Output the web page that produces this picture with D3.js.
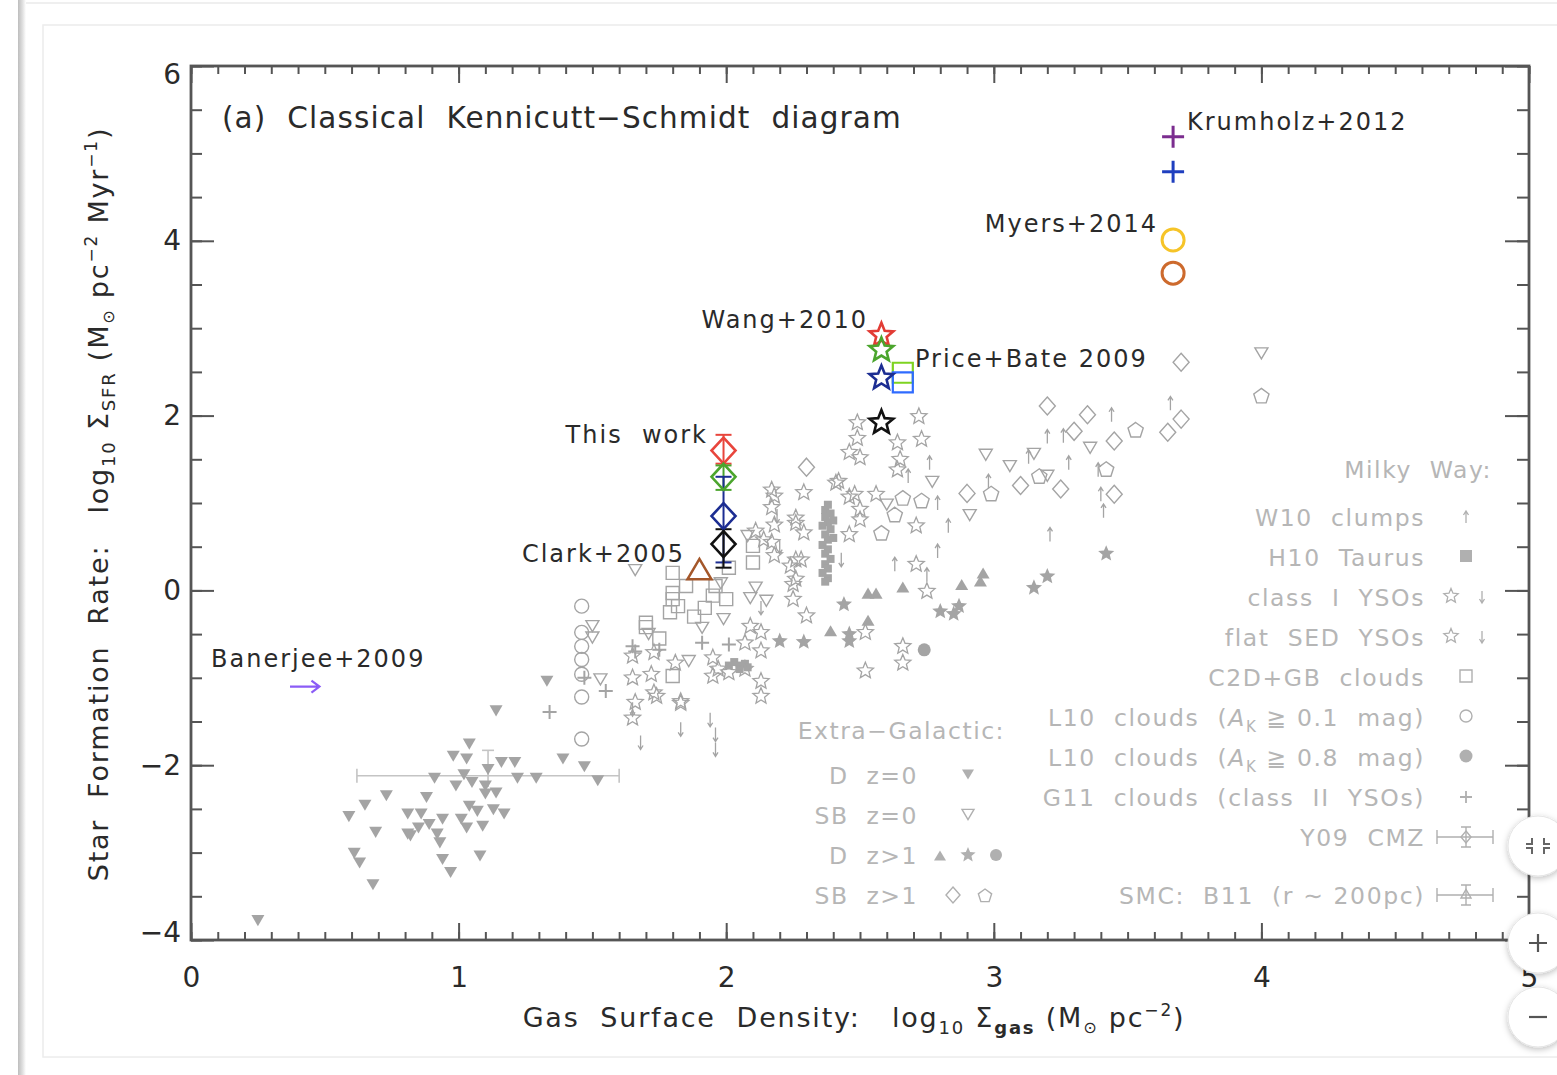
<!DOCTYPE html>
<html><head><meta charset="utf-8">
<script src="https://cdn.jsdelivr.net/npm/d3@7"></script>
<style>body{margin:0;background:#fff}svg{display:block}</style>
</head><body>
<svg id="chart" width="1557" height="1075"></svg>
<script>
// ---- axis ticks ----
const xTicks = [0, 1, 2, 3, 4, 5];
const yTicks = [-4, -2, 0, 2, 4, 6];

// ---- highlighted simulations / observations ----
const thisWorkX = 1.99;
const thisWorkY = [1.60, 1.30, 0.85, 0.53];
const thisWorkHi = [1.78, 1.43, 1.30, 0.70];
const thisWorkLo = [1.45, 1.15, 0.32, 0.26];
const wangX = 2.58;
const wangY = [2.92, 2.75, 2.43, 1.92];
const priceX = 2.66;
const priceY = [2.49, 2.38];
const krumholzX = 3.67;
const krumholzY = [5.19, 4.79];
const myersX = 3.67;
const myersY = [4.01, 3.63];
const clark = [1.90, 0.22];
const banerjee = [0.37, 0.48, -1.10];

// ---- Extra-Galactic ----
const dz0 = [[1.33,-1.02],[1.14,-1.36],[1.04,-1.74],[0.98,-1.88],[1.03,-1.91],[1.16,-1.95],[1.21,-1.95],[1.11,-2.03],[1.02,-2.09],[0.91,-2.13],[0.99,-2.22],[1.05,-2.18],[1.10,-2.22],[1.22,-2.13],[1.29,-2.13],[1.39,-1.91],[1.47,-2.00],[1.52,-2.16],[1.14,-2.30],[0.88,-2.35],[0.73,-2.33],[0.65,-2.44],[0.59,-2.57],[0.81,-2.54],[0.86,-2.54],[1.04,-2.45],[1.07,-2.51],[1.13,-2.49],[1.17,-2.54],[1.01,-2.60],[1.03,-2.70],[1.09,-2.68],[0.94,-2.60],[0.89,-2.66],[0.85,-2.70],[0.81,-2.77],[0.82,-2.79],[0.92,-2.77],[0.93,-2.87],[0.69,-2.75],[0.61,-2.99],[0.63,-3.10],[0.68,-3.35],[0.94,-3.06],[0.97,-3.21],[1.08,-3.02],[1.10,-2.31],[0.25,-3.76]];
const sbz0 = [[2.97,1.57],[3.06,1.44],[2.77,1.26],[2.91,0.88],[3.36,1.65],[3.20,1.33],[3.15,1.58],[2.60,1.00],[4.00,2.73],[1.50,-0.39],[1.50,-0.52],[1.53,-1.00],[1.66,0.25],[1.98,0.10],[2.11,0.05],[2.15,-0.10],[2.09,-0.07],[1.99,-0.31],[1.91,-0.41],[1.71,-0.48],[1.86,-0.79],[2.08,0.64]];
const sbz1Diamond = [[2.30,1.41],[3.20,2.11],[3.35,2.01],[3.30,1.82],[3.45,1.71],[2.90,1.11],[3.10,1.20],[3.25,1.16],[3.45,1.10],[3.65,1.81],[3.70,1.96],[3.70,2.61]];
const sbz1Pentagon = [[2.66,1.05],[2.73,1.02],[2.63,0.86],[2.58,0.65],[2.99,1.10],[3.17,1.30],[3.42,1.38],[3.53,1.83],[4.00,2.22]];
const dz1Star = [[2.44,-0.16],[2.80,-0.24],[2.85,-0.27],[2.87,-0.18],[3.15,0.03],[3.20,0.16],[3.42,0.42],[2.46,-0.50],[2.46,-0.58],[2.29,-0.59],[2.20,-0.58]];
const dz1Tri = [[2.53,-0.05],[2.56,-0.05],[2.66,0.02],[2.88,0.05],[2.95,0.09],[2.96,0.18],[2.39,-0.48],[2.53,-0.36]];
const dz1Dot = [[2.74,-0.68]];

// ---- Milky Way ----
const w10 = [[2.76,1.46],[2.68,1.31],[2.79,1.00],[2.83,0.74],[2.79,0.45],[2.63,0.30],[2.75,0.18],[2.98,1.25],[3.13,1.53],[3.20,1.76],[3.26,1.77],[3.28,1.46],[3.44,2.01],[3.39,1.38],[3.40,1.10],[3.41,0.91],[3.21,0.64],[3.66,2.14]];
const ysoStar = [[2.49,1.92],[2.72,1.99],[2.73,1.73],[2.49,1.74],[2.46,1.58],[2.50,1.52],[2.64,1.69],[2.65,1.50],[2.64,1.38],[2.42,1.25],[2.48,1.10],[2.56,1.10],[2.50,0.81],[2.46,0.64],[2.71,0.74],[2.71,0.30],[2.75,-0.01],[2.52,-0.48],[2.66,-0.64],[2.66,-0.83],[2.52,-0.92],[2.41,1.23],[2.29,1.12],[2.18,1.08],[2.26,0.83],[2.29,0.66],[2.11,0.68],[2.14,0.58],[2.26,0.35],[2.26,0.13],[2.25,-0.10],[2.30,-0.29],[2.09,-0.41],[2.07,-0.60],[2.13,-1.04],[2.13,-1.21],[1.95,-0.98],[1.83,-1.29],[1.65,-1.46],[1.65,-1.00],[1.74,-1.21],[2.46,1.07],[2.50,0.93],[2.26,0.77],[2.28,0.35],[2.24,0.28],[2.25,0.07],[2.13,-0.48],[2.13,-0.69],[1.65,-0.75],[1.72,-0.96],[1.83,-1.27],[1.66,-1.28],[1.73,-1.17],[1.81,-0.83],[1.73,-0.71],[1.95,-0.77],[1.97,-0.90],[2.01,-0.94],[2.07,-0.90],[2.17,1.15],[2.17,0.95],[2.18,0.75],[2.17,0.55],[2.18,0.40]];
const ysoDown = [[1.83,-1.59],[1.94,-1.48],[1.96,-1.65],[1.96,-1.82],[1.68,-1.74],[1.65,-1.36],[2.19,0.85],[2.20,0.50],[2.43,0.35],[2.13,-0.20]];
const c2d = [[1.80,0.20],[2.01,0.26],[2.10,0.51],[2.10,0.32],[2.00,-0.10],[1.80,-0.03],[1.70,-0.37],[1.80,-0.98],[1.80,-0.10],[1.82,-0.18],[1.79,-0.25],[1.95,-0.06],[1.96,0.05],[1.85,0.05],[1.70,-0.42],[1.75,-0.55],[1.92,-0.20],[1.88,-0.30]];
const h10 = [[2.38,0.98],[2.37,0.92],[2.39,0.88],[2.37,0.84],[2.38,0.78],[2.36,0.74],[2.39,0.70],[2.37,0.64],[2.38,0.58],[2.36,0.52],[2.38,0.47],[2.37,0.42],[2.39,0.36],[2.37,0.30],[2.38,0.25],[2.36,0.20],[2.38,0.14],[2.37,0.10],[2.40,0.60],[2.40,0.80],[2.03,-0.82],[2.05,-0.86],[2.07,-0.84],[2.05,-0.90],[2.08,-0.88],[2.01,-0.86]];
const l10Open = [[1.46,-0.18],[1.46,-0.48],[1.46,-0.64],[1.46,-0.79],[1.46,-0.96],[1.46,-1.22],[1.46,-1.70]];
const g11 = [[1.34,-1.39],[1.55,-1.15],[1.47,-1.00],[1.65,-0.64],[1.75,-0.68],[2.01,-0.62],[1.91,-0.60],[1.66,-0.70]];
const smc = {x: 1.11, y: -2.12, xlo: 0.62, xhi: 1.60, ylo: -2.25, yhi: -1.83};

// ---- legend labels ----
const extraGalLabels = ["D  z=0", "SB  z=0", "D  z>1", "SB  z>1"];
const milkyWayLabels = ["W10  clumps", "H10  Taurus", "class  I  YSOs", "flat  SED  YSOs", "C2D+GB  clouds",
  "L10  clouds  (A_K ≧ 0.1  mag)", "L10  clouds  (A_K ≧ 0.8  mag)", "G11  clouds  (class  II  YSOs)", "Y09  CMZ", "SMC:  B11  (r ∼ 200pc)"];

// =====================================================================
const svg = d3.select("#chart");
const FONT = "DejaVu Sans, sans-serif";
const GRAY = "#a4a4a4";
const LEG = "#b6b6b6";
const INK = "#2a2a2a";
const AX = "#555";

const x = d3.scaleLinear().domain([0, 5]).range([191, 1529]);
const y = d3.scaleLinear().domain([-4, 6]).range([940, 66]);

// ---- page frame and viewer chrome ----
const defs = svg.append("defs");
const sh = defs.append("filter").attr("id", "shadow").attr("x", "-50%").attr("y", "-50%").attr("width", "200%").attr("height", "200%");
sh.append("feDropShadow").attr("dx", 0).attr("dy", 2).attr("stdDeviation", 3).attr("flood-color", "#000").attr("flood-opacity", 0.25);
const bar = defs.append("linearGradient").attr("id", "bar");
bar.append("stop").attr("offset", "0%").attr("stop-color", "#bdbdbd");
bar.append("stop").attr("offset", "60%").attr("stop-color", "#e2e2e2");
bar.append("stop").attr("offset", "100%").attr("stop-color", "#fff");

svg.append("rect").attr("width", 1557).attr("height", 1075).attr("fill", "#fff");
svg.append("line").attr("x1", 20).attr("x2", 1557).attr("y1", 3).attr("y2", 3).attr("stroke", "#efefef").attr("stroke-width", 2);
svg.append("rect").attr("x", 18).attr("y", 0).attr("width", 8).attr("height", 1075).attr("fill", "url(#bar)");
svg.append("rect").attr("x", 43).attr("y", 25).attr("width", 1530).attr("height", 1032)
  .attr("fill", "none").attr("stroke", "#ececec").attr("stroke-width", 1.5);

// ---- axes (ticks drawn inward on all four sides) ----
const fr = svg.append("g");
function axisStyle(g) {
  g.select(".domain").remove();
  g.selectAll("line").attr("stroke", AX).attr("stroke-width", 2);
  g.selectAll("text").attr("fill", INK).attr("font-family", FONT).attr("font-size", 28);
}
const xMinor = d3.range(0, 50.5, 1).map(v => v / 10);
const yMinor = d3.range(-8, 12.5, 1).map(v => v / 2);
fr.append("g").attr("transform", "translate(0,940)")
  .call(d3.axisBottom(x).tickValues(xMinor).tickSize(-8).tickFormat("")).call(axisStyle);
fr.append("g").attr("transform", "translate(0,940)")
  .call(d3.axisBottom(x).tickValues(xTicks).tickSize(-17).tickPadding(27).tickFormat(d3.format("d"))).call(axisStyle);
fr.append("g").attr("transform", "translate(0,66)")
  .call(d3.axisTop(x).tickValues(xMinor).tickSize(-8).tickFormat("")).call(axisStyle);
fr.append("g").attr("transform", "translate(0,66)")
  .call(d3.axisTop(x).tickValues(xTicks).tickSize(-17).tickFormat("")).call(axisStyle);
fr.append("g").attr("transform", "translate(191,0)")
  .call(d3.axisLeft(y).tickValues(yMinor).tickSize(-11).tickFormat("")).call(axisStyle);
const yAx = fr.append("g").attr("transform", "translate(191,0)")
  .call(d3.axisLeft(y).tickValues(yTicks).tickSize(-23).tickPadding(10).tickFormat(d => d3.format("d")(d).replace("-", "−"))).call(axisStyle);
// keep the end labels inside the frame height
yAx.selectAll(".tick text").attr("dy", d => d === 6 ? "0.62em" : d === -4 ? "0.05em" : "0.32em");
fr.append("g").attr("transform", "translate(1529,0)")
  .call(d3.axisRight(y).tickValues(yMinor).tickSize(-12).tickFormat("")).call(axisStyle);
fr.append("g").attr("transform", "translate(1529,0)")
  .call(d3.axisRight(y).tickValues(yTicks).tickSize(-24).tickFormat("")).call(axisStyle);
fr.append("rect").attr("x", x(0)).attr("y", y(6)).attr("width", x(5) - x(0)).attr("height", y(-4) - y(6))
  .attr("fill", "none").attr("stroke", AX).attr("stroke-width", 2.8);

// ---- marker shapes ----
function starPath(R, r) {
  const p = d3.path();
  for (let i = 0; i < 10; i++) {
    const a = -Math.PI / 2 + i * Math.PI / 5, rad = i % 2 ? r : R;
    i ? p.lineTo(rad * Math.cos(a), rad * Math.sin(a)) : p.moveTo(rad * Math.cos(a), rad * Math.sin(a));
  }
  p.closePath(); return p.toString();
}
function polyPath(n, R, rot) {
  const p = d3.path();
  for (let i = 0; i < n; i++) {
    const a = rot + i * 2 * Math.PI / n;
    i ? p.lineTo(R * Math.cos(a), R * Math.sin(a)) : p.moveTo(R * Math.cos(a), R * Math.sin(a));
  }
  p.closePath(); return p.toString();
}
const triDown = s => `M${-s},${-s * 0.6}L${s},${-s * 0.6}L0,${s * 1.1}Z`;
const triUp = s => `M${-s},${s * 0.6}L${s},${s * 0.6}L0,${-s * 1.1}Z`;
const diamond = (w, h) => `M0,${-h}L${w},0L0,${h}L${-w},0Z`;
const square = s => `M${-s},${-s}H${s}V${s}H${-s}Z`;
const plus = s => `M${-s},0H${s}M0,${-s}V${s}`;
const circle = r => `M${r},0A${r},${r} 0 1,1 ${-r},0A${r},${r} 0 1,1 ${r},0Z`;
const arrowUp = s => `M0,${s}V${-s}M${-2.5},${-s + 4}L0,${-s}L2.5,${-s + 4}`;
const arrowDown = s => `M0,${-s}V${s}M${-2.5},${s - 4}L0,${s}L2.5,${s - 4}`;

function marks(data, d, fill, stroke, sw) {
  svg.append("g").selectAll("path").data(data).join("path")
    .attr("d", d)
    .attr("transform", p => `translate(${x(p[0])},${y(p[1])})`)
    .attr("fill", fill).attr("stroke", stroke).attr("stroke-width", sw);
}

// ---- grey literature compilation ----
// SMC B11 with error bars
(function () {
  const g = svg.append("g").attr("stroke", "#c4c4c4").attr("stroke-width", 1.6).attr("fill", "none");
  g.append("line").attr("x1", x(smc.xlo)).attr("x2", x(smc.xhi)).attr("y1", y(smc.y)).attr("y2", y(smc.y));
  [smc.xlo, smc.xhi].forEach(v => g.append("line").attr("x1", x(v)).attr("x2", x(v)).attr("y1", y(smc.y) - 7).attr("y2", y(smc.y) + 7));
  g.append("line").attr("x1", x(smc.x)).attr("x2", x(smc.x)).attr("y1", y(smc.yhi)).attr("y2", y(smc.ylo));
  g.append("line").attr("x1", x(smc.x) - 6).attr("x2", x(smc.x) + 6).attr("y1", y(smc.yhi)).attr("y2", y(smc.yhi));
})();
marks(h10, square(4), GRAY, "none", 0);
marks(l10Open, circle(7), "none", GRAY, 1.4);
marks(c2d, square(6.5), "none", GRAY, 1.4);
marks(ysoStar, starPath(8.5, 3.8), "none", GRAY, 1.3);
marks(ysoDown, arrowDown(7), "none", GRAY, 1.3);
marks(g11, plus(7), "none", GRAY, 2);
marks(w10, arrowUp(7), "none", GRAY, 1.3);
marks(dz0, triDown(6.5), GRAY, "none", 0);
marks(sbz0, triDown(6.5), "none", GRAY, 1.4);
marks(sbz1Diamond, diamond(8, 9), "none", GRAY, 1.4);
marks(sbz1Pentagon, polyPath(5, 8, -Math.PI / 2), "none", GRAY, 1.4);
marks(dz1Star, starPath(8.5, 3.8), GRAY, "none", 0);
marks(dz1Tri, triUp(6.5), GRAY, "none", 0);
marks(dz1Dot, circle(6.5), GRAY, "none", 0);

// ---- highlighted points ----
const twColors = ["#e8453c", "#4ba52d", "#1c2d92", "#111"];
const wangColors = ["#e23c35", "#4ba52d", "#1c2d92", "#111"];
const hi = svg.append("g").attr("fill", "none");
// Clark+2005
hi.append("path").attr("d", triUp(12)).attr("transform", `translate(${x(clark[0])},${y(clark[1]) + 1})`)
  .attr("stroke", "#a4572a").attr("stroke-width", 2.5);
// This work: error bars then diamonds
thisWorkY.forEach((v, i) => {
  const c = twColors[i], cx = x(thisWorkX);
  hi.append("line").attr("x1", cx).attr("x2", cx).attr("y1", y(thisWorkHi[i])).attr("y2", y(thisWorkLo[i])).attr("stroke", c).attr("stroke-width", 2);
  [thisWorkHi[i], thisWorkLo[i]].forEach(e => hi.append("line").attr("x1", cx - 8).attr("x2", cx + 8)
    .attr("y1", y(e)).attr("y2", y(e)).attr("stroke", c).attr("stroke-width", 2));
});
thisWorkY.forEach((v, i) => {
  hi.append("path").attr("d", diamond(12, 13)).attr("transform", `translate(${x(thisWorkX)},${y(v)})`)
    .attr("stroke", twColors[i]).attr("stroke-width", 2.6);
});
// Price+Bate 2009
["#7ed321", "#2f6bff"].forEach((c, i) => {
  hi.append("path").attr("d", square(10)).attr("transform", `translate(${x(priceX)},${y(priceY[i])})`)
    .attr("stroke", c).attr("stroke-width", 2.2);
});
// Wang+2010
wangY.forEach((v, i) => {
  hi.append("path").attr("d", starPath(12.5, 5.5)).attr("transform", `translate(${x(wangX)},${y(v)})`)
    .attr("stroke", wangColors[i]).attr("stroke-width", 2.6).attr("stroke-linejoin", "miter");
});
// Krumholz+2012
["#7b2d8f", "#1f3fbf"].forEach((c, i) => {
  hi.append("path").attr("d", plus(11)).attr("transform", `translate(${x(krumholzX)},${y(krumholzY[i])})`)
    .attr("stroke", c).attr("stroke-width", 3);
});
// Myers+2014
["#f6c428", "#cd6a2d"].forEach((c, i) => {
  hi.append("path").attr("d", circle(11)).attr("transform", `translate(${x(myersX)},${y(myersY[i])})`)
    .attr("stroke", c).attr("stroke-width", 3);
});
// Banerjee+2009 (lower limit in gas surface density)
(function () {
  const x1 = x(banerjee[0]), x2 = x(banerjee[1]), yy = y(banerjee[2]);
  hi.append("path").attr("d", `M${x1},${yy}H${x2}M${x2 - 8},${yy - 6}L${x2},${yy}L${x2 - 8},${yy + 6}`)
    .attr("stroke", "#8b5cf6").attr("stroke-width", 2.2);
})();

// ---- text ----
function label(t, px, py, anchor, opts = {}) {
  return svg.append("text").attr("x", px).attr("y", py).attr("text-anchor", anchor || "start")
    .attr("font-family", FONT).attr("font-size", opts.size || 24).attr("fill", opts.fill || INK)
    .attr("letter-spacing", opts.ls != null ? opts.ls : 2).style("white-space", "pre").text(t);
}
label("(a)  Classical  Kennicutt−Schmidt  diagram", 222, 128, "start", {size: 29.5, ls: 1.1});
label("Krumholz+2012", 1187, 130, "start");
label("Myers+2014", 1158, 232, "end");
label("Wang+2010", 868, 328, "end");
label("Price+Bate 2009", 915, 367, "start");
label("This  work", 708, 443, "end");
label("Clark+2005", 685, 562, "end");
label("Banerjee+2009", 211, 667, "start");

// axis titles
(function () {
  const t = svg.append("text").attr("x", 854).attr("y", 1027).attr("text-anchor", "middle")
    .attr("font-family", FONT).attr("font-size", 27).attr("fill", INK).attr("letter-spacing", 1.8).style("white-space", "pre");
  t.append("tspan").text("Gas  Surface  Density:   log");
  t.append("tspan").attr("font-size", 18).attr("dy", 7).text("10");
  t.append("tspan").attr("dy", -7).text(" Σ");
  t.append("tspan").attr("font-size", 18).attr("font-weight", "bold").attr("dy", 7).text("gas");
  t.append("tspan").attr("dy", -7).text(" (M");
  t.append("tspan").attr("font-size", 16).attr("dy", 6).text("⊙");
  t.append("tspan").attr("dy", -6).text(" pc");
  t.append("tspan").attr("font-size", 17).attr("dy", -11).text("−2");
  t.append("tspan").attr("dy", 11).text(")");
})();
(function () {
  const t = svg.append("text").attr("transform", "translate(108,504) rotate(-90)").attr("text-anchor", "middle")
    .attr("font-family", FONT).attr("font-size", 27).attr("fill", INK).attr("letter-spacing", 1.8).style("white-space", "pre");
  t.append("tspan").text("Star  Formation  Rate:   log");
  t.append("tspan").attr("font-size", 18).attr("dy", 7).text("10");
  t.append("tspan").attr("dy", -7).text(" Σ");
  t.append("tspan").attr("font-size", 18).attr("dy", 7).text("SFR");
  t.append("tspan").attr("dy", -7).text(" (M");
  t.append("tspan").attr("font-size", 16).attr("dy", 6).text("⊙");
  t.append("tspan").attr("dy", -6).text(" pc");
  t.append("tspan").attr("font-size", 17).attr("dy", -11).text("−2");
  t.append("tspan").attr("dy", 11).text(" Myr");
  t.append("tspan").attr("font-size", 17).attr("dy", -11).text("−1");
  t.append("tspan").attr("dy", 11).text(")");
})();

// ---- legends ----
const legOpts = {size: 23.5, fill: LEG, ls: 1.5};
label("Extra−Galactic:", 1005, 739, "end", legOpts);
const egY = [775, 815, 855, 895];
extraGalLabels.forEach((t, i) => label(t, 918, egY[i] + 9, "end", legOpts));
const lg = svg.append("g");
function legMark(d, px, py, fill, stroke, sw) {
  lg.append("path").attr("d", d).attr("transform", `translate(${px},${py})`)
    .attr("fill", fill).attr("stroke", stroke).attr("stroke-width", sw);
}
const LG = "#b0b0b0";
legMark(triDown(6), 968, 773, LG, "none", 0);
legMark(triDown(6), 968, 813, "none", LG, 1.4);
legMark(triUp(6), 940, 857, LG, "none", 0);
legMark(starPath(8, 3.6), 968, 855, LG, "none", 0);
legMark(circle(6), 996, 855, LG, "none", 0);
legMark(diamond(7, 8), 953, 895, "none", LG, 1.4);
legMark(polyPath(5, 7, -Math.PI / 2), 985, 896, "none", LG, 1.4);

label("Milky  Way:", 1492, 478, "end", legOpts);
const mwY = [517, 557, 597, 637, 677, 717, 757, 797, 837, 895];
milkyWayLabels.forEach((t, i) => {
  const el = svg.append("text").attr("x", 1425).attr("y", mwY[i] + 9).attr("text-anchor", "end")
    .attr("font-family", FONT).attr("font-size", 23.5).attr("fill", LEG).attr("letter-spacing", 1.6).style("white-space", "pre");
  const k = t.indexOf("A_K");
  if (k < 0) { el.text(t); return; }
  el.append("tspan").text(t.slice(0, k));
  el.append("tspan").attr("font-style", "italic").text("A");
  el.append("tspan").attr("font-size", 15).attr("dy", 6).text("K");
  el.append("tspan").attr("dy", -6).text(t.slice(k + 3));
});
legMark(arrowUp(6), 1466, 517, "none", LG, 1.3);
legMark(square(6), 1466, 556, LG, "none", 0);
legMark(starPath(7.5, 3.4), 1451, 596, "none", LG, 1.3);
legMark(arrowDown(6), 1482, 597, "none", LG, 1.3);
legMark(starPath(7.5, 3.4), 1451, 636, "none", LG, 1.3);
legMark(arrowDown(6), 1482, 637, "none", LG, 1.3);
legMark(square(6), 1466, 676, "none", LG, 1.4);
legMark(circle(6), 1466, 716, "none", LG, 1.4);
legMark(circle(6.5), 1466, 756, LG, "none", 0);
legMark(plus(6), 1466, 797, "none", LG, 1.8);
[[837, diamond(5, 6)], [895, triUp(5)]].forEach(([py, d]) => {
  legMark(`M1437,${py}H1493M1437,${py - 7}V${py + 7}M1493,${py - 7}V${py + 7}M1466,${py - 10}V${py + 10}M1461,${py - 10}H1471M1461,${py + 10}H1471`, 0, 0, "none", LG, 1.4);
  legMark(d, 1466, py, "none", LG, 1.4);
});

// ---- viewer zoom controls ----
const ctl = svg.append("g");
[846, 943, 1017].forEach(cy => ctl.append("circle").attr("cx", 1538).attr("cy", cy).attr("r", 30)
  .attr("fill", "#fff").attr("stroke", "#e4e4e4").attr("filter", "url(#shadow)"));
ctl.append("path").attr("d", "M1532,838V844H1526M1544,838V844H1550M1532,854V848H1526M1544,854V848H1550")
  .attr("fill", "none").attr("stroke", "#666").attr("stroke-width", 2);
ctl.append("path").attr("d", "M1529,943H1547M1538,934V952").attr("stroke", "#555").attr("stroke-width", 2.2);
ctl.append("path").attr("d", "M1529,1017H1547").attr("stroke", "#555").attr("stroke-width", 2.2);
</script>
</body></html>
